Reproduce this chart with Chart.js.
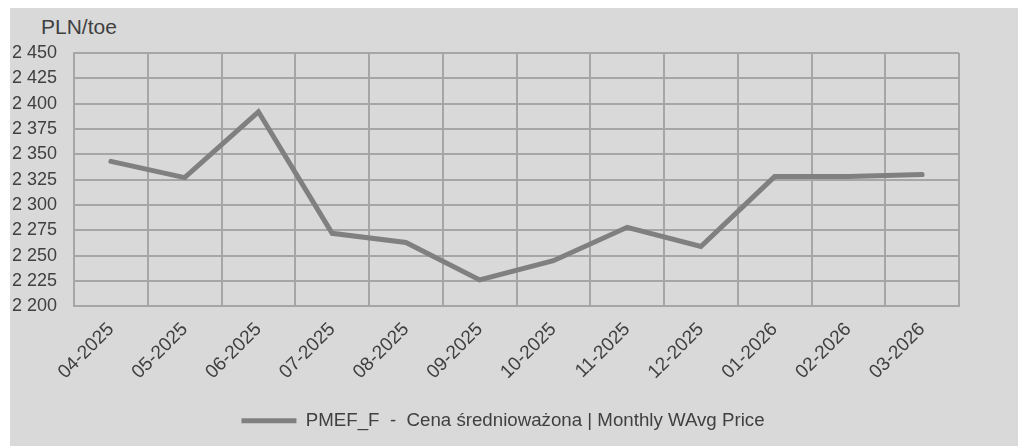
<!DOCTYPE html>
<html>
<head>
<meta charset="utf-8">
<script src="https://cdn.jsdelivr.net/npm/chart.js@4"></script>
<style>
  body { margin: 0; background: #fff; font-family: "Liberation Sans", Arial, sans-serif; }
  #panel { position: absolute; left: 10px; top: 8px; width: 1008px; height: 438px; background: #d9d9d9; }
  #unit { position: absolute; left: 41px; top: 16px; font-size: 21px; line-height: 21px; color: #404040; }
  #wrap { position: absolute; left: 12px; top: 8px; width: 982px; height: 438px; }
</style>
</head>
<body>
<div id="panel"></div>
<div id="unit">PLN/toe</div>
<div id="wrap"><canvas id="chart"></canvas></div>
<script>
// months on the x axis
const months = ['04-2025', '05-2025', '06-2025', '07-2025', '08-2025', '09-2025',
                '10-2025', '11-2025', '12-2025', '01-2026', '02-2026', '03-2026'];
// PMEF_F monthly weighted average price, PLN/toe
const prices = [2343, 2327, 2392, 2272, 2263, 2226, 2245, 2278, 2259, 2328, 2328, 2330];
const yMin = 2200;
const yMax = 2450;
const yStep = 25;
const seriesName = 'PMEF_F  -  Cena średnioważona | Monthly WAvg Price';

const gridColor = '#a6a6a6';
const textColor = '#404040';
const fmt = v => String(v).replace(/\B(?=(\d{3})+(?!\d))/g, ' ');

Chart.defaults.font.family = '"Liberation Sans", Arial, sans-serif';
Chart.defaults.font.size = 18;
Chart.defaults.color = textColor;

new Chart(document.getElementById('chart'), {
  type: 'line',
  data: {
    labels: months,
    datasets: [{
      label: seriesName,
      data: prices,
      borderColor: '#808080',
      backgroundColor: '#808080',
      borderWidth: 5,
      borderCapStyle: 'round',
      borderJoinStyle: 'miter',
      pointRadius: 0,
      pointHoverRadius: 0,
      tension: 0,
      fill: false
    }]
  },
  options: {
    responsive: true,
    maintainAspectRatio: false,
    animation: false,
    layout: { padding: { top: 45, right: 0, bottom: 6, left: 0 } },
    plugins: {
      tooltip: { enabled: false },
      legend: {
        position: 'bottom',
        labels: {
          usePointStyle: true,
          pointStyle: 'line',
          pointStyleWidth: 55,
          padding: 10,
          color: textColor,
          font: { size: 18.7 }
        }
      }
    },
    scales: {
      x: {
        offset: true,
        grid: { offset: true, color: gridColor, lineWidth: 2, drawTicks: false },
        border: { color: gridColor, width: 2 },
        ticks: { minRotation: 45, maxRotation: 45, autoSkip: false, padding: 12, font: { size: 19 } },
        // fixed axis height, and keep the plot clear of the right edge
        afterFit: s => { s.height = 95; s.paddingLeft = 0; s.paddingRight = 35; }
      },
      y: {
        min: yMin,
        max: yMax,
        grid: { color: gridColor, lineWidth: 2, drawTicks: false },
        border: { color: gridColor, width: 2 },
        ticks: { stepSize: yStep, padding: 17, callback: v => fmt(v) },
        afterFit: s => { s.width -= 17; }
      }
    }
  }
});
</script>
</body>
</html>
